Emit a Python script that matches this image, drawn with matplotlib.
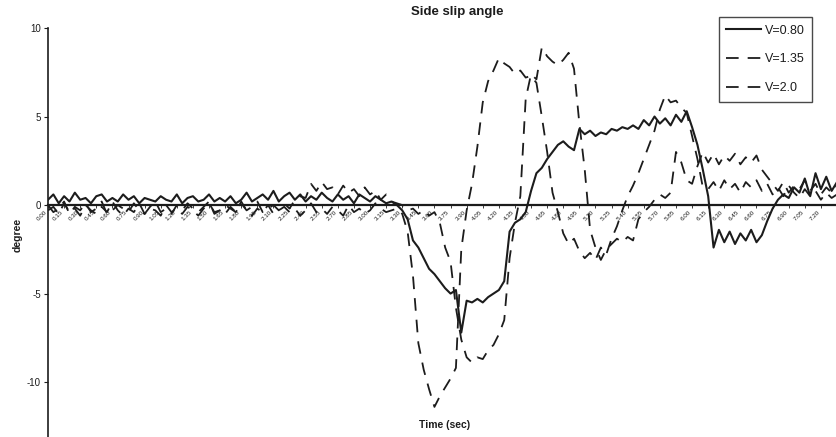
import numpy as np
import matplotlib
matplotlib.use("Agg")
import matplotlib.pyplot as plt

plt.rcParams['font.family'] = ['Liberation Sans', 'DejaVu Sans']
plt.rcParams['axes.unicode_minus'] = False

# 横すべり角 [deg] (サンプル毎)
v080 = [0.3, 0.6, 0.1, 0.5, 0.2, 0.7, 0.3, 0.4, 0.1, 0.5, 0.6, 0.2, 0.4, 0.2, 0.6, 0.3,
        0.5, 0.1, 0.4, 0.3, 0.2, 0.5, 0.3, 0.2, 0.6, 0.1, 0.4, 0.5, 0.2, 0.3, 0.6, 0.2,
        0.4, 0.2, 0.5, 0.1, 0.3, 0.7, 0.2, 0.4, 0.6, 0.3, 0.8, 0.2, 0.5, 0.7, 0.3, 0.6,
        0.2, 0.5, 0.3, 0.7, 0.4, 0.2, 0.6, 0.3, 0.5, 0.1, 0.6, 0.4, 0.2, 0.5, 0.3, 0.1, 0.2,
        0.0, -0.3, -0.8, -2.0, -2.4, -3.0, -3.6, -3.9, -4.3, -4.7, -5.0, -4.8, -7.2, -5.4,
        -5.5, -5.3, -5.5, -5.2, -5.0, -4.8, -4.3, -1.5, -1.0, -0.8, -0.4, 0.8, 1.8, 2.1,
        2.6, 3.0, 3.4, 3.6, 3.3, 3.1, 4.3, 4.0, 4.2, 3.9, 4.1, 4.0, 4.3, 4.2, 4.4, 4.3,
        4.5, 4.3, 4.8, 4.5, 5.0, 4.6, 4.9, 4.5, 5.1, 4.7, 5.3, 4.4, 3.4, 2.0, 0.5, -2.4,
        -1.4, -2.1, -1.5, -2.2, -1.6, -2.0, -1.4, -2.1, -1.7, -0.9, -0.2, 0.3, 0.6, 0.4,
        1.0, 0.7, 1.5, 0.5, 1.8, 0.9, 1.6, 0.8, 1.3]

v135 = [-0.3, -0.1, -0.5, 0.1, -0.4, -0.2, -0.6, 0.0, -0.3, -0.5, -0.1, -0.4, 0.2, -0.3, -0.6, -0.2,
        -0.4, 0.1, -0.5, -0.2, -0.3, -0.6, 0.0, -0.4, -0.2, -0.5, -0.1, -0.3, -0.6, -0.2, 0.1, -0.4,
        -0.3, -0.5, -0.1, -0.4, 0.2, -0.3, -0.6, -0.2, -0.4, 0.0, -0.5, -0.3, -0.1, -0.4, -0.2, -0.6,
        -0.3, 0.1, -0.4, -0.2, -0.5, -0.1, -0.3, -0.6, 0.0, -0.4, -0.2, -0.5, -0.3, 0.1, -0.2, -0.4, -0.3,
        -0.2, -0.5, -1.5, -4.0, -7.8, -9.3, -10.4, -11.4, -10.8, -10.3, -9.8, -9.2, -2.5, -0.3,
        1.2, 3.3, 5.8, 7.0, 7.6, 8.3, 8.0, 7.8, 7.4, 7.6, 7.2, 7.3, 6.9, 5.0,
        3.0, 0.7, -0.4, -1.6, -2.2, -1.9, -2.6, -3.0, -2.7, -3.1, -2.4, -2.8, -1.9, -1.2,
        -0.3, 0.5, 1.1, 1.8, 2.6, 3.4, 4.2, 5.4, 6.2, 5.8, 5.9, 5.5, 5.2, 3.9, 2.6, 1.0,
        0.9, 1.3, 0.8, 1.4, 0.9, 1.2, 0.7, 1.3, 1.0, 1.4, 0.8, 1.2, 0.6, 1.0, 0.5, 1.1,
        0.7, 0.4, 0.9, 0.5, 0.8, 0.3, 0.7, 0.4, 0.6]

v200 = [0.0, -0.4, -0.2, 0.2, -0.5, -0.1, -0.3, 0.1, -0.4, -0.2, 0.2, -0.5, -0.3, 0.0, -0.2, -0.4,
        0.1, -0.3, -0.5, -0.1, 0.2, -0.4, -0.2, -0.5, 0.0, -0.3, 0.1, -0.2, -0.4, -0.1, 0.2, -0.5,
        -0.3, 0.0, -0.2, -0.4, 0.1, -0.3, -0.1, 0.2, -0.4, -0.2, 0.0, -0.3, 0.1, -0.2, 0.3, 0.5, 0.4, 1.2,
        0.8, 1.3, 0.9, 1.0, 0.6, 1.1, 0.7, 0.9, 0.5, 1.0, 0.6, 0.8, 0.3, 0.6, 0.2,
        0.1, 0.0, -0.3, -0.2, -0.5, -0.3, -0.6, -0.4, -1.0, -2.4, -3.2, -5.8, -7.6, -8.6,
        -8.9, -8.6, -8.7, -8.2, -7.9, -7.3, -6.5, -3.0, -1.0, 0.5, 6.0, 7.4, 7.1, 8.9,
        8.4, 8.1, 7.9, 8.2, 8.6, 7.7, 4.6, 2.0, -1.4, -2.4, -3.1, -2.5, -2.2, -1.9,
        -2.1, -1.8, -2.0, -0.8, -0.4, -0.1, 0.3, 0.6, 0.4, 0.7, 3.0, 2.4, 1.4, 1.2, 2.2, 3.0,
        2.4, 2.9, 2.3, 2.8, 2.5, 2.9, 2.3, 2.7, 2.4, 2.8, 2.0, 1.6, 1.2, 0.8, 1.3, 0.7,
        1.1, 0.9, 1.4, 0.8, 1.2, 0.6, 1.0, 0.7, 1.1]

# 時間ラベル (3サンプル毎)
time_labels = ['0.00', '0.15', '0.30', '0.45', '0.60', '0.75', '0.90', '1.05', '1.20', '1.35',
               '1.50', '1.65', '1.80', '1.95', '2.10', '2.25', '2.40', '2.55', '2.70', '2.85',
               '3.00', '3.15', '3.30', '3.45', '3.60', '3.75', '3.90', '4.05', '4.20', '4.35',
               '4.50', '4.65', '4.80', '4.95', '5.10', '5.25', '5.40', '5.55', '5.70', '5.85',
               '6.00', '6.15', '6.30', '6.45', '6.60', '6.75', '6.90', '7.05', '7.20']
label_step = 3

n = len(v080)
x = np.arange(n)
ink = '#1c1c1c'

fig = plt.figure(figsize=(8.37, 4.37), dpi=100)
ax = fig.add_axes([48 / 837, 0.0, 1 - 48 / 837, 1 - 28 / 437])

ax.plot(x, v080, color=ink, lw=1.5, label='V=0.80')
ax.plot(x, v135, color=ink, lw=1.3, dashes=(7, 5), label='V=1.35')
ax.plot(x, v200, color=ink, lw=1.3, dashes=(7, 5), label='V=2.0')

ax.set_xlim(0, n - 1)
ax.set_ylim(-13.1, 10)
ax.set_yticks([-10, -5, 0, 5, 10])
ax.tick_params(axis='y', labelsize=7, length=3, width=0.8, colors=ink, pad=2)

# x軸は0の位置に
ax.spines['bottom'].set_position(('data', 0))
ax.spines['bottom'].set_linewidth(1.6)
ax.spines['bottom'].set_color(ink)
ax.spines['left'].set_linewidth(1.2)
ax.spines['left'].set_color(ink)
ax.spines['top'].set_visible(False)
ax.spines['right'].set_visible(False)

ticks = np.arange(len(time_labels)) * label_step
ax.set_xticks(ticks)
ax.set_xticklabels(time_labels, rotation=45, ha='right', va='top', fontsize=4.5, color=ink)
ax.tick_params(axis='x', length=2, width=0.6, pad=1, colors=ink)
ax.patch.set_visible(False)

fig.text(457 / 837, 1 - 12 / 437, 'Side slip angle', ha='center', va='center',
         fontsize=9.5, fontweight='bold', color=ink)
fig.text(18 / 837, 1 - 235 / 437, 'degree', rotation=90, ha='center', va='center',
         fontsize=7.5, fontweight='bold', color=ink)
fig.text(445 / 837, 1 - 425 / 437, 'Time (sec)', ha='center', va='center',
         fontsize=7.5, fontweight='bold', color=ink)

leg = ax.legend(loc='upper right', bbox_to_anchor=(812 / 837, 1 - 17 / 437),
                bbox_transform=fig.transFigure, fontsize=9, frameon=True, fancybox=False,
                edgecolor=ink, handlelength=2.75, handletextpad=0.3, labelspacing=1.35,
                borderpad=0.6, borderaxespad=0)
leg.get_frame().set_linewidth(1.0)
for t in leg.get_texts():
    t.set_color(ink)

fig.savefig('out.png', dpi=100)
